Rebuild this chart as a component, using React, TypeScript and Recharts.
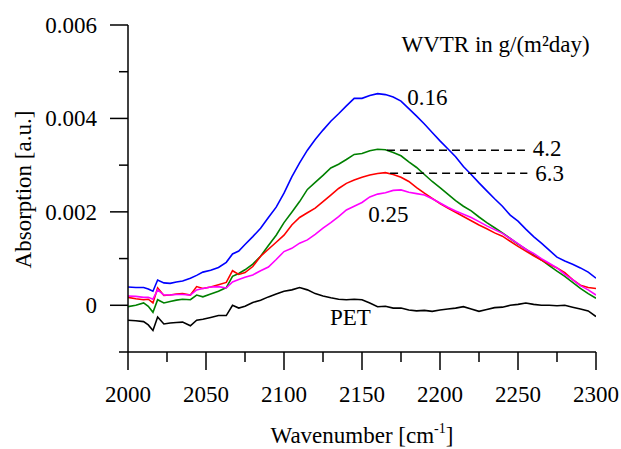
import React from 'react';
import { LineChart, Line, XAxis, YAxis, ReferenceLine, ReferenceDot, Label } from 'recharts';

const FONT = 'Liberation Serif';

// Wavenumber grid (cm^-1)
const wavenumbers = [
  2000, 2005, 2010, 2013, 2016, 2019, 2023, 2027, 2031, 2035, 2040, 2044, 2048, 2053, 2058, 2063, 2067, 2071, 2075,
  2080, 2085, 2090, 2095, 2100,
  2105, 2110, 2115, 2120, 2125, 2130, 2135, 2140, 2145, 2150,
  2155, 2160, 2165, 2170, 2175, 2180, 2185, 2190, 2195, 2200,
  2205, 2210, 2215, 2220, 2225, 2230, 2235, 2240, 2245, 2250,
  2255, 2260, 2265, 2270, 2275, 2280, 2285, 2290, 2295, 2300,
];

// WVTR 0.16 (blue)
const wvtr016 = [
  0.00039, 0.00038, 0.00038, 0.00035, 0.0003, 0.00054, 0.00048, 0.00047, 0.0005, 0.00052, 0.00058, 0.00064, 0.00071, 0.00075, 0.00081, 0.00092, 0.0011, 0.00116, 0.0013,
  0.00147, 0.00165, 0.00188, 0.0021, 0.0024,
  0.00275, 0.00305, 0.00332, 0.00355, 0.00375, 0.00394, 0.0041, 0.00427, 0.00443, 0.00443,
  0.00449, 0.00453, 0.00451, 0.00446, 0.00437, 0.00421, 0.00405, 0.00388, 0.0037, 0.00352,
  0.00335, 0.00318, 0.00297, 0.0028, 0.00262, 0.00245, 0.00228, 0.00212, 0.00193, 0.0018,
  0.00163, 0.00147, 0.00133, 0.00118, 0.00103, 0.00095, 0.00088, 0.0008, 0.00071, 0.00058,
];

// WVTR 4.2 (green)
const wvtr42 = [
  -0.00003, 0.0, 0.00005, -0.00002, -0.00015, 0.00012, 0.00005, 0.00008, 0.00011, 0.00013, 0.00012, 0.00022, 0.00018, 0.00024, 0.0003, 0.00038, 0.00062, 0.00068, 0.00076,
  0.00088, 0.00105, 0.00128, 0.0015, 0.00177,
  0.00199, 0.00222, 0.00248, 0.00263, 0.00278, 0.00294, 0.00302, 0.00312, 0.00323, 0.00325,
  0.00331, 0.00334, 0.00333, 0.00327, 0.0032, 0.00307, 0.00295, 0.0028, 0.00265, 0.00252,
  0.00238, 0.00224, 0.00212, 0.00202, 0.00189, 0.00177, 0.00166, 0.00155, 0.00143, 0.00131,
  0.0012, 0.00108, 0.00097, 0.00085, 0.00073, 0.00062, 0.00049, 0.00036, 0.00025, 0.00015,
];

// WVTR 6.3 (red)
const wvtr63 = [
  0.00017, 0.00014, 0.00012, 0.00013, 0.00005, 0.00037, 0.00021, 0.00022, 0.00024, 0.00025, 0.00022, 0.0004, 0.00036, 0.00039, 0.00044, 0.00049, 0.00074, 0.00066, 0.0007,
  0.00083, 0.00105, 0.0012, 0.00135, 0.0015,
  0.00172, 0.00188, 0.00198, 0.00208, 0.00222, 0.00236, 0.0025, 0.00261, 0.00268, 0.00274,
  0.00279, 0.00282, 0.00284, 0.0028, 0.00274, 0.00265, 0.00252, 0.0024, 0.00229, 0.00218,
  0.00208, 0.00199, 0.0019, 0.00181, 0.00172, 0.00164, 0.00155, 0.00148, 0.00137, 0.00126,
  0.00116, 0.00106, 0.00097, 0.00088, 0.0008, 0.0007, 0.00055, 0.00043, 0.00038, 0.00036,
];

// WVTR 0.25 (magenta)
const wvtr025 = [
  0.0002, 0.00019, 0.00017, 0.00017, 0.00013, 0.00033, 0.00022, 0.00022, 0.00023, 0.00023, 0.00022, 0.00033, 0.00036, 0.00039, 0.0004, 0.00037, 0.0005, 0.00055, 0.0006,
  0.00065, 0.00074, 0.00082, 0.00098, 0.00115,
  0.00122, 0.00133, 0.0014, 0.00152, 0.00165, 0.00177, 0.0019, 0.00204, 0.00212, 0.0022,
  0.00232, 0.00238, 0.00241, 0.00246, 0.00247, 0.00242, 0.00239, 0.00236, 0.00228, 0.00219,
  0.0021, 0.00202, 0.00195, 0.00188, 0.00179, 0.0017, 0.00162, 0.00154, 0.00143, 0.00132,
  0.0012, 0.00111, 0.001, 0.0009, 0.0008, 0.00066, 0.00055, 0.00042, 0.00033, 0.00022,
];

// PET (black)
const pet = [
  -0.00032, -0.00033, -0.00035, -0.00042, -0.00054, -0.00025, -0.0004, -0.00038, -0.00037, -0.00036, -0.00044, -0.00032, -0.0003, -0.00026, -0.00022, -0.00022, 0.0, -0.00006, -0.00002,
  0.00006, 0.00011, 0.00018, 0.00024, 0.0003,
  0.00033, 0.00038, 0.00033, 0.00025, 0.0002, 0.00016, 0.00013, 0.00012, 0.00013, 0.00012,
  0.00005, -0.00003, -0.00002, -0.00006, -0.00006, -0.0001, -0.00012, -0.00011, -0.00013, -0.0001,
  -0.00008, -0.00006, -0.00003, -0.00008, -0.00013, -0.00009, -0.00005, -0.00004, 0.0, 0.00002,
  0.00005, 0.00002, 0.0, 0.0, -0.00001, 0.0, -0.00004, -0.00008, -0.00012, -0.00024,
];

const xTicks = [2000, 2025, 2050, 2075, 2100, 2125, 2150, 2175, 2200, 2225, 2250, 2275, 2300];
const xMajorTicks = [2000, 2050, 2100, 2150, 2200, 2250, 2300];
const yTicks = [-0.001, 0, 0.001, 0.002, 0.003, 0.004, 0.005, 0.006];
const yMajorTicks = [0, 0.002, 0.004, 0.006];
const yMajorLabels = ['0', '0.002', '0.004', '0.006'];

const seriesNames = ['0.16', '4.2', '6.3', '0.25', 'PET'];

const annotations = [
  { text: 'WVTR in g/(m²day)', w: 2296, v: 0.00542, anchor: 'end' },
  { text: '0.16', w: 2179, v: 0.00428, anchor: 'start' },
  { text: '4.2', w: 2259.5, v: 0.0032, anchor: 'start' },
  { text: '6.3', w: 2261, v: 0.00267, anchor: 'start' },
  { text: '0.25', w: 2154, v: 0.00179, anchor: 'start' },
  { text: 'PET', w: 2129.5, v: -0.00042, anchor: 'start' },
];

const dashedLeaders = [
  { from: 2166, to: 2255, v: 0.00332 },
  { from: 2168, to: 2256, v: 0.002825 },
];

const data = wavenumbers.map((w, i) => ({
  w,
  s016: wvtr016[i],
  s42: wvtr42[i],
  s63: wvtr63[i],
  s025: wvtr025[i],
  pet: pet[i],
}));

const FS = 23;
const textStyle = { fontFamily: FONT, fontSize: FS };

const XTick = (props: any) => {
  const { x, y, payload } = props;
  const major = xMajorTicks.includes(payload.value);
  return (
    <g>
      <line x1={x} x2={x} y1={y} y2={y + (major ? 18 : 10)} stroke="#000" strokeWidth={1.5} />
      {major && (
        <text x={x} y={y + 50} textAnchor="middle" fontFamily={FONT} fontSize={FS} style={textStyle} fill="#000">
          {payload.value}
        </text>
      )}
    </g>
  );
};

const YTick = (props: any) => {
  const { x, y, payload } = props;
  const idx = yMajorTicks.findIndex((t) => Math.abs(t - payload.value) < 1e-9);
  const major = idx >= 0;
  return (
    <g>
      <line x1={x} x2={x - (major ? 18 : 9)} y1={y} y2={y} stroke="#000" strokeWidth={1.5} />
      {major && (
        <text x={x - 31} y={y} dy="0.34em" textAnchor="end" fontFamily={FONT} fontSize={FS} style={textStyle} fill="#000">
          {yMajorLabels[idx]}
        </text>
      )}
    </g>
  );
};

const XTitle = (props: any) => {
  const vb = props.viewBox;
  const cx = vb.x + vb.width / 2;
  return (
    <text x={cx} y={vb.y + 91} textAnchor="middle" fontFamily={FONT} fontSize={FS} style={textStyle} fill="#000">
      Wavenumber [cm
      <tspan dy={-10} style={{ fontSize: 14 }}>-1</tspan>
      <tspan dy={10}>]</tspan>
    </text>
  );
};

const YTitle = (props: any) => {
  const vb = props.viewBox;
  const cy = vb.y + vb.height / 2 + 1;
  const x = 31;
  return (
    <text x={x} y={cy} transform={`rotate(-90, ${x}, ${cy})`} textAnchor="middle" fontFamily={FONT} fontSize={FS} style={textStyle} fill="#000">
      Absorption [a.u.]
    </text>
  );
};

const makeAnnot = (text: string, anchor: string) => (props: any) => {
  const vb = props.viewBox || {};
  const x = (vb.x ?? 0) + (vb.width ?? 0) / 2;
  const y = (vb.y ?? 0) + (vb.height ?? 0) / 2;
  return (
    <text x={x} y={y} textAnchor={anchor} fontFamily={FONT} fontSize={FS} style={textStyle} fill="#000">
      {text}
    </text>
  );
};

const axisLineStyle = { stroke: '#000', strokeWidth: 1.5 };

export default function App() {
  return (
    <div style={{ position: 'absolute', left: 0, top: 0, background: '#fff' }}>
      <LineChart width={621} height={449} data={data} margin={{ top: 25, right: 25, left: 0, bottom: 0 }}>
        <XAxis
          dataKey="w"
          type="number"
          domain={[2000, 2300]}
          ticks={xTicks}
          interval={0}
          tickSize={0}
          tickMargin={0}
          tickLine={false}
          axisLine={axisLineStyle}
          height={97}
          tick={XTick}
          allowDataOverflow
        >
          <Label content={XTitle} />
        </XAxis>
        <XAxis
          xAxisId="top"
          orientation="top"
          type="number"
          domain={[2000, 2300]}
          height={0}
          tick={false}
          tickLine={false}
          axisLine={axisLineStyle}
        />
        <YAxis
          type="number"
          domain={[-0.001, 0.006]}
          ticks={yTicks}
          interval={0}
          tickSize={0}
          tickMargin={0}
          tickLine={false}
          axisLine={axisLineStyle}
          width={128}
          tick={YTick}
          allowDataOverflow
        >
          <Label content={YTitle} />
        </YAxis>
        <YAxis
          yAxisId="right"
          orientation="right"
          type="number"
          domain={[-0.001, 0.006]}
          width={0}
          tick={false}
          tickLine={false}
          axisLine={axisLineStyle}
        />
        <Line name={seriesNames[0]} dataKey="s016" stroke="#0000ff" strokeWidth={1.6} dot={false} isAnimationActive={false} />
        <Line name={seriesNames[1]} dataKey="s42" stroke="#008000" strokeWidth={1.6} dot={false} isAnimationActive={false} />
        <Line name={seriesNames[2]} dataKey="s63" stroke="#ff0000" strokeWidth={1.6} dot={false} isAnimationActive={false} />
        <Line name={seriesNames[3]} dataKey="s025" stroke="#ff00ff" strokeWidth={1.6} dot={false} isAnimationActive={false} />
        <Line name={seriesNames[4]} dataKey="pet" stroke="#000000" strokeWidth={1.6} dot={false} isAnimationActive={false} />
        {dashedLeaders.map((d, i) => (
          <ReferenceLine
            key={`dl${i}`}
            segment={[{ x: d.from, y: d.v }, { x: d.to, y: d.v }]}
            stroke="#000"
            strokeWidth={1.5}
            strokeDasharray="8 5"
            ifOverflow="visible"
          />
        ))}
        {annotations.map((a, i) => (
          <ReferenceDot
            key={`an${i}`}
            x={a.w}
            y={a.v}
            r={0}
            fill="none"
            stroke="none"
            ifOverflow="visible"
            label={makeAnnot(a.text, a.anchor)}
          />
        ))}
      </LineChart>
    </div>
  );
}
